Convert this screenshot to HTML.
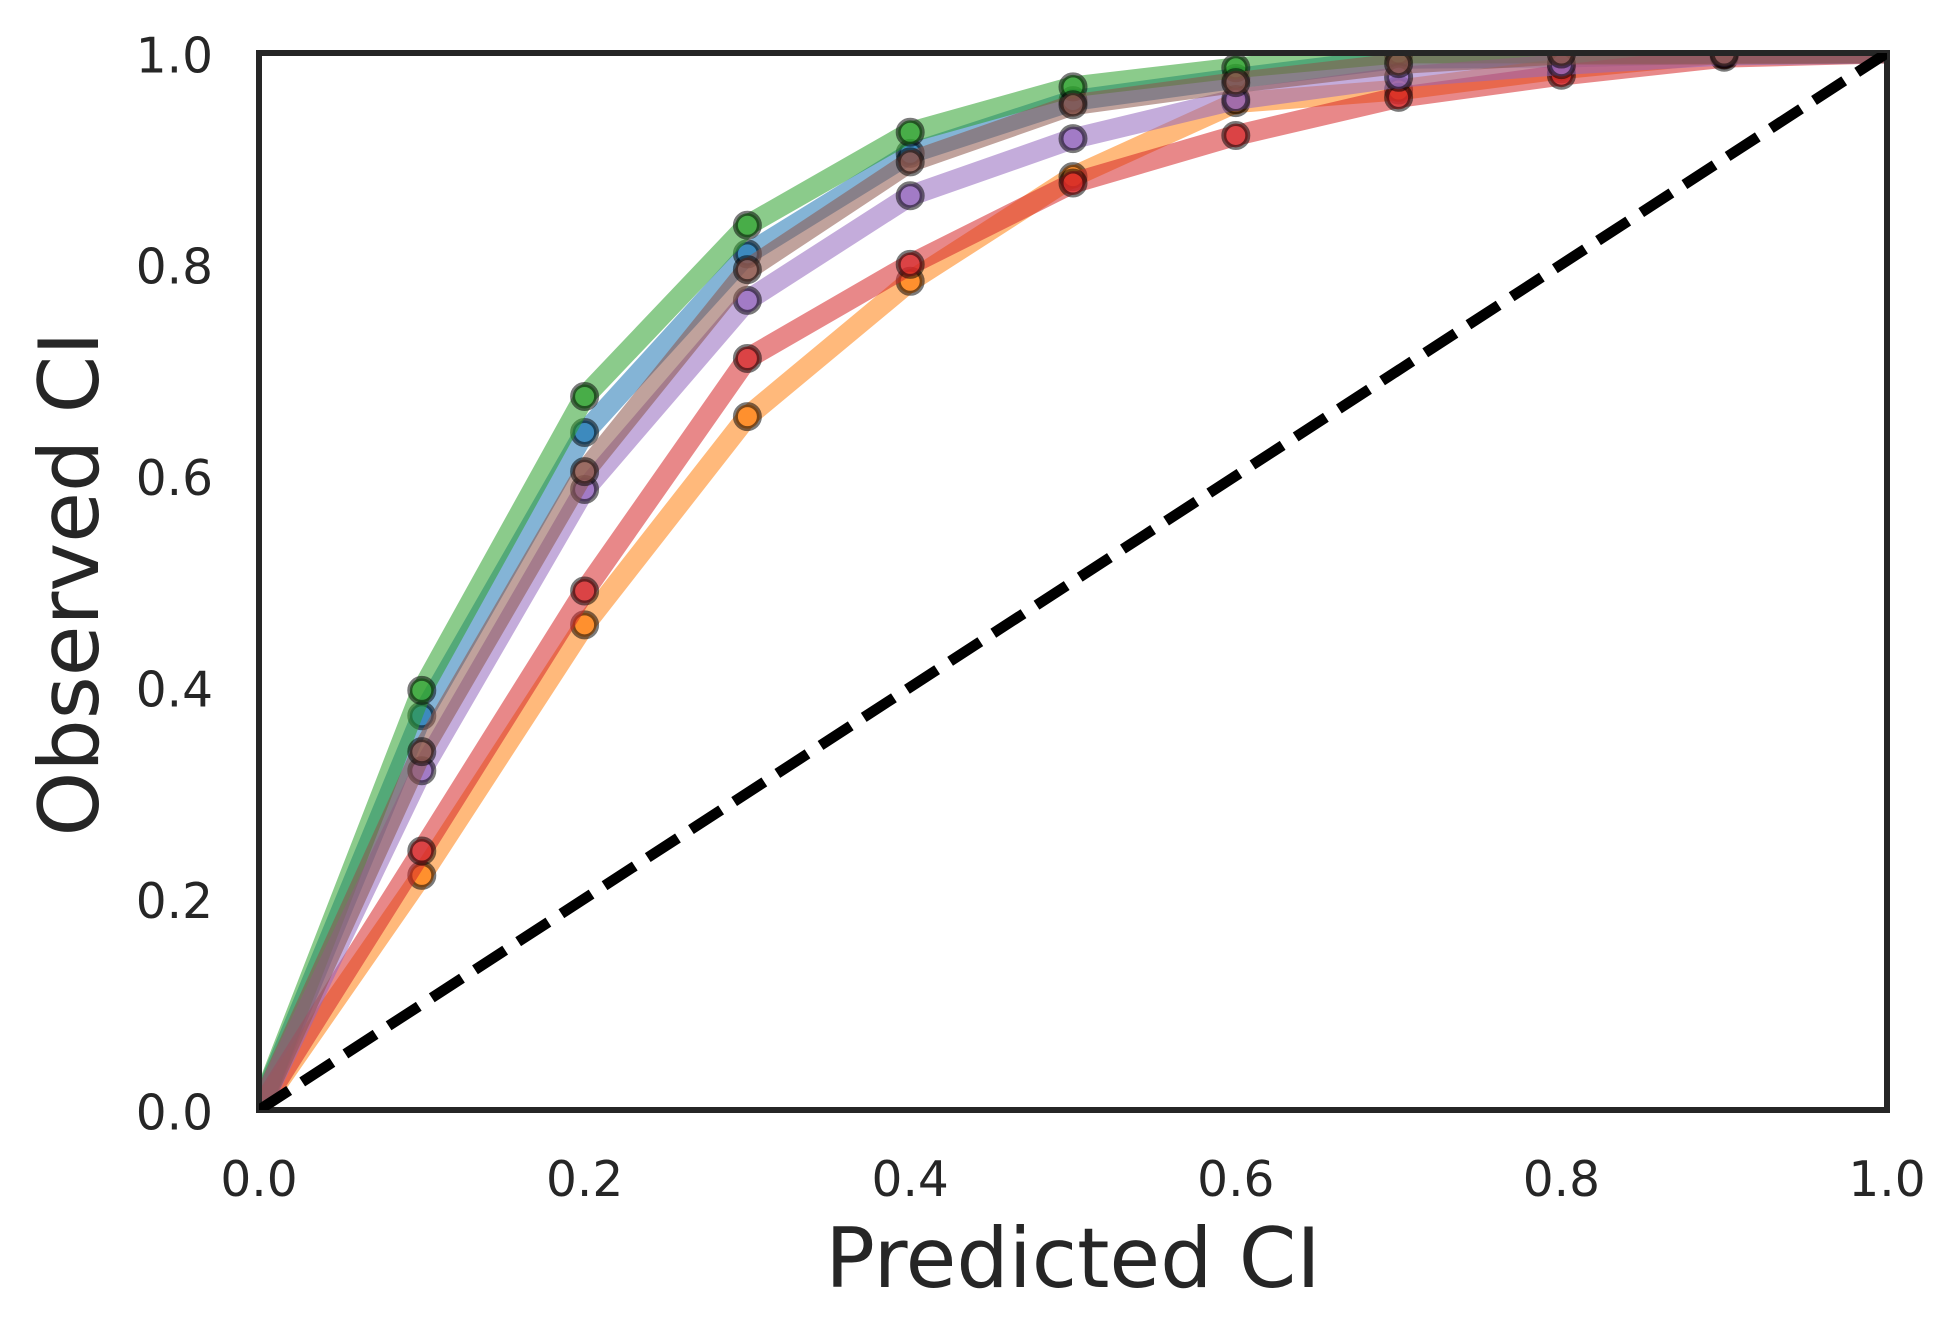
<!DOCTYPE html>
<html lang="en">
<head>
<meta charset="utf-8">
<title>Observed vs Predicted CI</title>
<style>
html,body{margin:0;padding:0;background:#fff;}
svg{display:block;}
text{font-family:"DejaVu Sans","Liberation Sans",sans-serif;fill:#262626;}
</style>
</head>
<body>
<svg id="chart" xmlns="http://www.w3.org/2000/svg" width="1960" height="1340" viewBox="0 0 1960 1340">
  <defs>
    <clipPath id="plot-clip"><rect x="259" y="53" width="1628" height="1057"></rect></clipPath>
  </defs>
  <rect x="0" y="0" width="1960" height="1340" fill="#ffffff"></rect>
  <g id="series-layer" clip-path="url(#plot-clip)"></g>
  <rect x="259" y="53" width="1628" height="1057" fill="none" stroke="#262626" stroke-width="6"></rect>
  <g id="reference-layer" clip-path="url(#plot-clip)"></g>
  <g id="x-ticks"></g>
  <g id="y-ticks"></g>
  <text x="1073" y="1287" font-size="82.5" text-anchor="middle">Predicted CI</text>
  <text transform="translate(98 584) rotate(-90)" font-size="82.5" text-anchor="middle">Observed CI</text>
</svg>
<script>
const predicted = [0, 0.1, 0.2, 0.3, 0.4, 0.5, 0.6, 0.7, 0.8, 0.9, 1.0];
const blueValues = [0, 0.373, 0.641, 0.810, 0.905, 0.955, 0.976, 0.995, 0.996, 1.0, 1.0];
const orangeValues = [0, 0.222, 0.459, 0.656, 0.784, 0.883, 0.953, 0.965, 0.985, 1.0, 1.0];
const greenValues = [0, 0.397, 0.675, 0.837, 0.925, 0.968, 0.986, 1.0, 1.0, 1.0, 1.0];
const redValues = [0, 0.245, 0.491, 0.711, 0.800, 0.877, 0.922, 0.958, 0.979, 0.996, 1.0];
const purpleValues = [0, 0.321, 0.587, 0.766, 0.865, 0.919, 0.956, 0.977, 0.989, 0.998, 1.0];
const brownValues = [0, 0.339, 0.604, 0.795, 0.897, 0.951, 0.972, 0.990, 0.999, 0.999, 1.0];
const referenceLine = [0, 1];
const xTickLabels = ["0.0", "0.2", "0.4", "0.6", "0.8", "1.0"];
const yTickLabels = ["0.0", "0.2", "0.4", "0.6", "0.8", "1.0"];

const NS = "http://www.w3.org/2000/svg";
const xScale = v => 259 + v * 1628;
const yScale = v => 1110 - v * 1057;

const seriesList = [
  ["blue", blueValues, "#1f77b4"],
  ["orange", orangeValues, "#ff7f0e"],
  ["green", greenValues, "#2ca02c"],
  ["red", redValues, "#d62728"],
  ["purple", purpleValues, "#9467bd"],
  ["brown", brownValues, "#8c564b"]
];

const seriesLayer = document.getElementById("series-layer");
seriesList.forEach(([label, values, color]) => {
  const line = document.createElementNS(NS, "polyline");
  
  
  line.setAttribute("points", predicted.map((p, i) => xScale(p).toFixed(2) + "," + yScale(values[i]).toFixed(2)).join(" "));
  line.setAttribute("fill", "none");
  line.setAttribute("stroke", color);
  line.setAttribute("stroke-opacity", "0.55");
  line.setAttribute("stroke-width", "20.8");
  line.setAttribute("stroke-linejoin", "round");
  line.setAttribute("stroke-linecap", "butt");
  seriesLayer.appendChild(line);

  predicted.forEach((p, i) => {
    if (p === 0 || p === 1) return;
    const dot = document.createElementNS(NS, "circle");
    
    
    dot.setAttribute("cx", xScale(p).toFixed(2));
    dot.setAttribute("cy", yScale(values[i]).toFixed(2));
    dot.setAttribute("r", "12");
    dot.setAttribute("fill", color);
    dot.setAttribute("fill-opacity", "0.7");
    dot.setAttribute("stroke", "#000000");
    dot.setAttribute("stroke-opacity", "0.52");
    dot.setAttribute("stroke-width", "5");
    seriesLayer.appendChild(dot);
  });
});

const referenceLayer = document.getElementById("reference-layer");
const reference = document.createElementNS(NS, "line");


reference.setAttribute("x1", xScale(referenceLine[0]));
reference.setAttribute("y1", yScale(referenceLine[0]));
reference.setAttribute("x2", xScale(referenceLine[1]));
reference.setAttribute("y2", yScale(referenceLine[1]));
reference.setAttribute("stroke", "#000000");
reference.setAttribute("stroke-width", "10.6");
reference.setAttribute("stroke-dasharray", "36 15.5");
referenceLayer.appendChild(reference);

const xTicks = document.getElementById("x-ticks");
xTickLabels.forEach(t => {
  const el = document.createElementNS(NS, "text");
  
  
  el.setAttribute("x", xScale(parseFloat(t)));
  el.setAttribute("y", 1196);
  el.setAttribute("font-size", "48.6");
  el.setAttribute("text-anchor", "middle");
  el.textContent = t;
  xTicks.appendChild(el);
});

const yTicks = document.getElementById("y-ticks");
yTickLabels.forEach(t => {
  const el = document.createElementNS(NS, "text");
  
  
  el.setAttribute("x", 213);
  el.setAttribute("y", yScale(parseFloat(t)) + 19.3);
  el.setAttribute("font-size", "48.6");
  el.setAttribute("text-anchor", "end");
  el.textContent = t;
  yTicks.appendChild(el);
});
</script>
</body>
</html>
